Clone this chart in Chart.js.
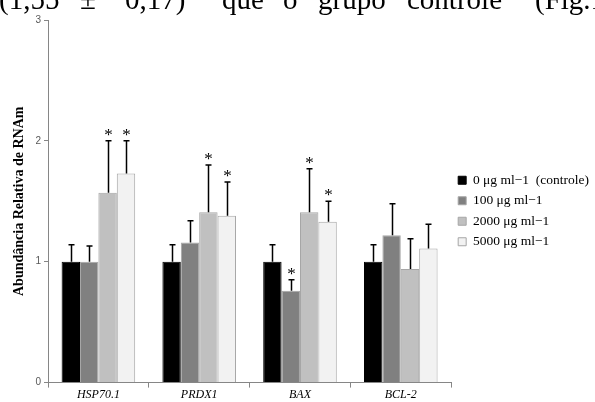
<!DOCTYPE html>
<html>
<head>
<meta charset="utf-8">
<script src="https://cdn.jsdelivr.net/npm/chart.js@4.4.1/dist/chart.umd.min.js"></script>
<style>
  body { margin: 0; background: #fff; width: 595px; height: 402px; overflow: hidden; position: relative; }
  #clip { position: absolute; left: 0; top: 0; width: 595px; height: 16px; overflow: hidden; z-index: 2; }
  #clip span { position: absolute; top: -15px; font: 29px/29px "Liberation Serif", serif; color: #000; white-space: nowrap; }
  canvas { position: absolute; left: 0; top: 0; }
</style>
</head>
<body>
<div id="clip">
  <span style="left:-1px">(1,55</span>
  <span style="left:80px">±</span>
  <span style="left:125px">0,17)</span>
  <span style="left:222px">que</span>
  <span style="left:283px">o</span>
  <span style="left:318px">grupo</span>
  <span style="left:407px">controle</span>
  <span style="left:535px">(Fig.1</span>
</div>
<canvas id="chart" width="595" height="402"></canvas>
<script>
// genes on the x axis
const genes = ['HSP70.1', 'PRDX1', 'BAX', 'BCL-2'];
const doseLabels = ['0 μg ml−1  (controle)', '100 μg ml−1', '2000 μg ml−1', '5000 μg ml−1'];
const doseColors = ['#000000', '#808080', '#c0c0c0', '#f2f2f2'];

// relative mRNA abundance per dose
const dose0 = [1.00, 1.00, 1.00, 1.00];
const dose100 = [1.00, 1.16, 0.76, 1.22];
const dose2000 = [1.57, 1.41, 1.41, 0.94];
const dose5000 = [1.73, 1.38, 1.33, 1.11];

// top of the error bars
const err0 = [1.14, 1.14, 1.14, 1.14];
const err100 = [1.13, 1.34, 0.85, 1.48];
const err2000 = [2.00, 1.80, 1.77, 1.19];
const err5000 = [2.00, 1.66, 1.50, 1.31];

// significance marks (*)
const sig0 = [false, false, false, false];
const sig100 = [false, false, true, false];
const sig2000 = [true, true, true, false];
const sig5000 = [true, true, true, false];

const yTicks = [0, 1, 2, 3];

const values = [dose0, dose100, dose2000, dose5000];
const errs = [err0, err100, err2000, err5000];
const sigs = [sig0, sig100, sig2000, sig5000];

const errorBars = {
  id: 'errorBars',
  afterDatasetsDraw(chart) {
    const ctx = chart.ctx;
    const y = chart.scales.y;
    ctx.save();
    ctx.strokeStyle = '#000';
    ctx.lineWidth = 1.5;
    values.forEach((vals, i) => {
      const meta = chart.getDatasetMeta(i);
      meta.data.forEach((bar, j) => {
        const x = Math.round(bar.x) + 0.5;
        const yTop = y.getPixelForValue(errs[i][j]);
        const yVal = y.getPixelForValue(vals[j]);
        ctx.beginPath();
        ctx.moveTo(x, yVal);
        ctx.lineTo(x, yTop);
        ctx.moveTo(x - 3, yTop);
        ctx.lineTo(x + 3, yTop);
        ctx.stroke();
        if (sigs[i][j]) {
          ctx.fillStyle = '#000';
          ctx.font = '17px "Liberation Serif"';
          ctx.textAlign = 'center';
          ctx.textBaseline = 'alphabetic';
          ctx.fillText('*', x, yTop - 1);
        }
      });
    });
    ctx.restore();
  }
};

new Chart(document.getElementById('chart').getContext('2d'), {
  type: 'bar',
  data: {
    labels: genes,
    datasets: values.map((vals, i) => ({
      label: doseLabels[i],
      data: vals,
      backgroundColor: doseColors[i],
      borderColor: i === 0 ? '#000' : '#a6a6a6',
      borderWidth: 1,
      barPercentage: 1.0,
      categoryPercentage: 0.73
    }))
  },
  options: {
    responsive: false,
    animation: false,
    layout: { padding: { top: 20, right: -4, bottom: 0, left: 4 } },
    plugins: {
      legend: {
        position: 'right',
        align: 'center',
        labels: {
          boxWidth: 8,
          boxHeight: 8,
          padding: 7,
          color: '#000',
          font: { family: 'Liberation Serif', size: 13.5 }
        }
      },
      tooltip: { enabled: false }
    },
    scales: {
      x: {
        grid: { offset: true, drawOnChartArea: false, drawTicks: true, tickLength: 5, color: '#868686' },
        border: { color: '#868686' },
        ticks: { color: '#000', font: { family: 'Liberation Serif', size: 12, style: 'italic' }, padding: 0 }
      },
      y: {
        min: 0,
        max: 3,
        afterBuildTicks(scale) { scale.ticks = yTicks.map(v => ({ value: v })); },
        afterFit(scale) { scale.width = 44; },
        grid: { drawOnChartArea: false, drawTicks: true, tickLength: 4, color: '#868686' },
        border: { color: '#868686' },
        ticks: { color: '#595959', font: { family: 'Liberation Sans', size: 10 }, padding: 3 },
        title: {
          display: true,
          text: 'Abundância Relativa de RNAm',
          color: '#000',
          font: { family: 'Liberation Serif', size: 14, weight: 'bold' },
          padding: { top: 7, bottom: 0 }
        }
      }
    }
  },
  plugins: [errorBars]
});
</script>
</body>
</html>
